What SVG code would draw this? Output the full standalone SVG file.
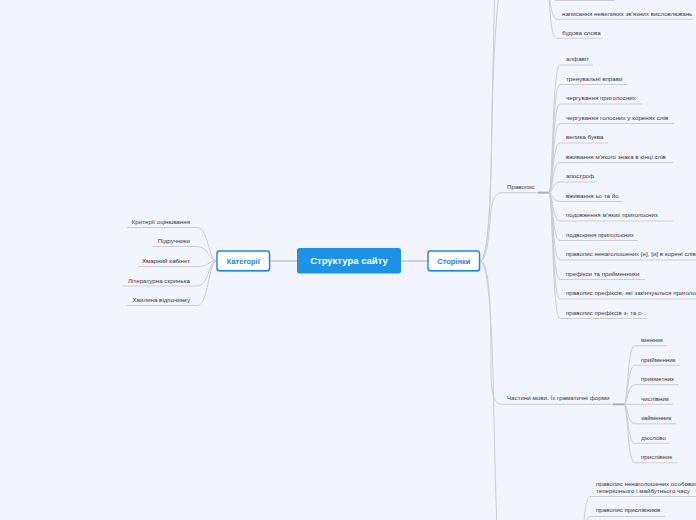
<svg xmlns="http://www.w3.org/2000/svg" width="696" height="520" viewBox="0 0 696 520">
<style>
.bg{fill:#f3f5fe}
.c{fill:none;stroke:#cdcdd4;stroke-width:1}
.m{fill:none;stroke:#c6c6cc;stroke-width:1.5}
.stub{fill:none;stroke:#aeaeb2;stroke-width:2}
.t{font-family:"Liberation Sans",Arial,sans-serif;font-size:6.2px;fill:#3a3a3a}
.te{font-family:"Liberation Sans",Arial,sans-serif;font-size:6.2px;fill:#3a3a3a;text-anchor:end}
.root{fill:#1e93e6}
.box{fill:#ffffff;stroke:#1b86e4;stroke-width:1.4}
.sh{fill:#c9d3e6}
.rt{font-family:"Liberation Sans",Arial,sans-serif;font-size:9.5px;font-weight:bold;fill:#ffffff;text-anchor:middle}
.bt{font-family:"Liberation Sans",Arial,sans-serif;font-size:7.5px;font-weight:bold;fill:#1a7fe0;text-anchor:middle}
</style>
<rect class="bg" x="0" y="0" width="696" height="520"/>
<g id="connectors">
<path class="m" d="M270,261 L297,261"/>
<path class="m" d="M401,261 L428,261"/>
<path class="c" d="M217,261 C208,261 209,227.5 197,227.5 L127,227.5"/>
<path class="c" d="M217,261 C208,261 209,246.5 197,246.5 L153,246.5"/>
<path class="c" d="M217,261 C208,261 209,266.5 197,266.5 L138,266.5"/>
<path class="c" d="M217,261 C208,261 209,286 197,286 L123,286"/>
<path class="c" d="M217,261 C208,261 209,305.5 197,305.5 L127,305.5"/>
<path class="c" d="M480,261 C489,261 491,190 492,120 C493,60 496,20 500,-20"/>
<path class="c" d="M480,261 C489,261 491,190 492,120 C493,60 494,20 495,-20"/>
<path class="c" d="M480,261 C488,261 489,230 491,210 C493,197 496,192.7 503,192.7 L538,192.7"/>
<path class="c" d="M480,261 C489,261 491,300 491,370 C491,396 494,404.3 503,404.3 L613,404.3"/>
<path class="c" d="M480,261 C490,261 493,350 494,420 C495,470 496,500 497,530"/>
<path class="stub" d="M538,192.7 L549,192.7"/>
<path class="stub" d="M613,404.3 L624,404.3"/>
<path class="c" d="M546,-40 C549,-40 549,0.5 556,0.5 L615,0.5"/>
<path class="c" d="M546,-40 C549,-40 547,19.3 557,19.3 L693,19.3"/>
<path class="c" d="M546,-40 C549,-40 548,38.3 556,38.3 L603,38.3"/>
<path class="c" d="M549,192.7 C553,192.7 552,65 560,65 L593,65"/>
<path class="c" d="M549,192.7 C553,192.7 552,84.5 560,84.5 L627,84.5"/>
<path class="c" d="M549,192.7 C553,192.7 552,104 560,104 L642,104"/>
<path class="c" d="M549,192.7 C553,192.7 552,123.5 560,123.5 L674,123.5"/>
<path class="c" d="M549,192.7 C553,192.7 552,143 560,143 L608,143"/>
<path class="c" d="M549,192.7 C553,192.7 552,162.5 560,162.5 L673,162.5"/>
<path class="c" d="M549,192.7 C553,192.7 552,182 560,182 L597,182"/>
<path class="c" d="M549,192.7 C553,192.7 552,201.5 560,201.5 L623,201.5"/>
<path class="c" d="M549,192.7 C553,192.7 552,221 560,221 L673,221"/>
<path class="c" d="M549,192.7 C553,192.7 552,240.5 560,240.5 L638,240.5"/>
<path class="c" d="M549,192.7 C553,192.7 552,260 560,260 L710,260"/>
<path class="c" d="M549,192.7 C553,192.7 552,279.5 560,279.5 L645,279.5"/>
<path class="c" d="M549,192.7 C553,192.7 552,299 560,299 L740,299"/>
<path class="c" d="M549,192.7 C553,192.7 552,318.5 560,318.5 L648,318.5"/>
<path class="c" d="M624,404.3 C628,404.3 627,345.7 635,345.7 L667,345.7"/>
<path class="c" d="M624,404.3 C628,404.3 627,365.2 635,365.2 L680,365.2"/>
<path class="c" d="M624,404.3 C628,404.3 627,384.7 635,384.7 L679,384.7"/>
<path class="c" d="M624,404.3 C628,404.3 627,404.3 635,404.3 L673,404.3"/>
<path class="c" d="M624,404.3 C628,404.3 627,423.8 635,423.8 L676,423.8"/>
<path class="c" d="M624,404.3 C628,404.3 627,443.3 635,443.3 L669,443.3"/>
<path class="c" d="M624,404.3 C628,404.3 627,462.8 635,462.8 L677,462.8"/>
<path class="c" d="M580,570 C583,570 582,496.5 590,496.5 L710,496.5"/>
<path class="c" d="M580,570 C583,570 582,516.5 590,516.5 L665,516.5"/>
</g>
<g id="root">
<rect class="root" x="297" y="248" width="104" height="25.5" rx="2.5"/>
<text class="rt" x="349" y="264.3">Структура сайту</text>
</g>
<g id="kategorii">
<rect class="sh" x="217.5" y="252" width="53" height="20" rx="2.5"/>
<rect class="box" x="217" y="251" width="52.5" height="19.8" rx="2.5"/>
<text class="bt" x="243.3" y="263.8">Категорії</text>
</g>
<g id="storinky">
<rect class="sh" x="428.5" y="252" width="52" height="20" rx="2.5"/>
<rect class="box" x="428" y="251" width="51.5" height="19.8" rx="2.5"/>
<text class="bt" x="453.8" y="263.8">Сторінки</text>
</g>
<g id="cat-items">
<text class="te" x="190" y="224">Критерії оцінювання</text>
<text class="te" x="190" y="243">Підручники</text>
<text class="te" x="190" y="263">Хмарний кабінет</text>
<text class="te" x="190" y="282.5">Літературна скринька</text>
<text class="te" x="190" y="302">Хвилина відпочинку</text>
</g>
<g id="top-branch">
<text class="t" x="562" y="15.5">написання невеликих зв'язних висловлювань</text>
<text class="t" x="562" y="34.5">будова слова</text>
</g>
<g id="pravopys">
<text class="t" x="507" y="188.5">Правопис</text>
<text class="t" x="566" y="61.3">алфавіт</text>
<text class="t" x="566" y="80.8">тренувальні вправи</text>
<text class="t" x="566" y="100.3">чергування приголосних</text>
<text class="t" x="566" y="119.8">чергування голосних у коренях слів</text>
<text class="t" x="566" y="139.3">велика буква</text>
<text class="t" x="566" y="158.8">вживання м'якого знака в кінці слів</text>
<text class="t" x="566" y="178.3">апостроф</text>
<text class="t" x="566" y="197.8">вживання ьо та йо</text>
<text class="t" x="566" y="217.3">подовження м'яких приголосних</text>
<text class="t" x="566" y="236.8">подвоєння приголосних</text>
<text class="t" x="566" y="256.3">правопис ненаголошених [е], [и] в корені слів</text>
<text class="t" x="566" y="275.8">префікси та прийменники</text>
<text class="t" x="566" y="295.3">правопис префіксів, які закінчуються приголосними</text>
<text class="t" x="566" y="314.8">правопис префіксів з- та с-</text>
</g>
<g id="chastyny">
<text class="t" x="507" y="400.3">Частини мови. Їх граматичні форми</text>
<text class="t" x="641" y="342">іменник</text>
<text class="t" x="641" y="361.5">прийменник</text>
<text class="t" x="641" y="381">прикметник</text>
<text class="t" x="641" y="400.5">числівник</text>
<text class="t" x="641" y="420">займенник</text>
<text class="t" x="641" y="439.5">дієслово</text>
<text class="t" x="641" y="459">прислівник</text>
</g>
<g id="bottom-branch">
<text class="t" x="596" y="486.3">правопис ненаголошених особових закінчень дієслів</text>
<text class="t" x="596" y="492.6">теперішнього і майбутнього часу</text>
<text class="t" x="596" y="512.3">правопис прислівників</text>
</g>
</svg>
